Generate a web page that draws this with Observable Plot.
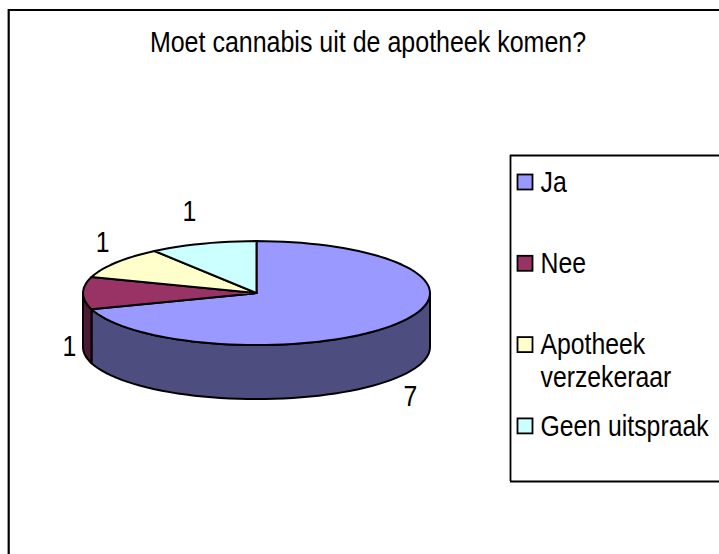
<!DOCTYPE html>
<html>
<head>
<meta charset="utf-8">
<script src="https://cdn.jsdelivr.net/npm/d3@7"></script>
<script src="https://cdn.jsdelivr.net/npm/@observablehq/plot@0.6"></script>
<style>
html,body{margin:0;padding:0;background:#fff;overflow:hidden}
svg{display:block}
</style>
</head>
<body>
<div id="chart"></div>
<script>
const titleText = "Moet cannabis uit de apotheek komen?";
const categories = ["Ja", "Nee", "Apotheek verzekeraar", "Geen uitspraak"];
const values = [7, 1, 1, 1];
const legendLines = [["Ja"], ["Nee"], ["Apotheek", "verzekeraar"], ["Geen uitspraak"]];
const topColors = ["#9999FF", "#993366", "#FFFFCC", "#CCFFFF"];
const sideColors = ["#4D4D80", "#4D1A33", "#808066", "#668080"];

// Layout, in the pixel-like units of the x and y scales
const W = 719, H = 554;
const pie = {cx: 256, cy: 292.6, rx: 173.5, ry: 52, depth: 54};
const rad = d => d * Math.PI / 180;
const ex = t => pie.cx + pie.rx * Math.sin(rad(t));
const ey = t => pie.cy - pie.ry * Math.cos(rad(t));

const total = d3.sum(values);
let acc = 0;
const slices = values.map((v, i) => {
  const a0 = acc / total * 360; acc += v;
  return {i, name: categories[i], value: v, a0, a1: acc / total * 360};
});
const arc = (a0, a1) => {
  const n = Math.max(2, Math.ceil((a1 - a0) / 3));
  return d3.range(n + 1).map(k => a0 + (a1 - a0) * k / n);
};

const topPts = slices.flatMap(s => [
  {id: s.name, x: pie.cx, y: pie.cy},
  ...arc(s.a0, s.a1).map(t => ({id: s.name, x: ex(t), y: ey(t)}))
]);
const sidePts = slices.flatMap(s => {
  const a0 = Math.max(s.a0, 90), a1 = Math.min(s.a1, 270);
  if (a1 <= a0) return [];
  const ts = arc(a0, a1), id = "side-" + s.i;
  return [
    ...ts.map(t => ({id, i: s.i, x: ex(t), y: ey(t)})),
    ...ts.slice().reverse().map(t => ({id, i: s.i, x: ex(t), y: ey(t) + pie.depth}))
  ];
});
const sideColorById = id => sideColors[+id.split("-")[1]];

const labels = slices.map(s => {
  const m = (s.a0 + s.a1) / 2, c = Math.cos(rad(m)), sn = Math.sin(rad(m));
  return {
    text: String(s.value),
    x: ex(m) + 13.5 * Math.sign(sn),
    y: ey(m) - 33 * c + (m >= 90 && m <= 270 ? pie.depth : 0)
  };
});

const legend = {x: 510, top: 155, bottom: 481, swatchX: 517.5, swatch: 15, textX: 540, firstY: 182, step: 81.3, lineStep: 33};
const rowY = i => legend.firstY + legend.step * i;
const legendRows = categories.map((name, i) => ({name, y: rowY(i)}));
const legendText = legendLines.flatMap((lines, i) => lines.map((t, j) => ({t, y: rowY(i) + j * legend.lineStep})));

const font = "'Liberation Sans', Arial, sans-serif";
const textSize = 24.8;
const titleSize = 25;
const textStretch = 1.16;
const chart = Plot.plot({
  width: W, height: H,
  margin: 0,
  x: {domain: [0, W], range: [0, W], axis: null},
  y: {domain: [0, H], range: [0, H], axis: null},
  color: {domain: categories, range: topColors},
  style: {background: "#fff", fontFamily: font},
  marks: [
    // outer chart border: runs off the right and bottom of the picture
    Plot.ruleY([9.5], {x1: 8, x2: W, stroke: "#000", strokeWidth: 2.2}),
    Plot.ruleX([8.2], {y1: 9, y2: H, stroke: "#000", strokeWidth: 2.2}),
    Plot.text([titleText], {x: [367.5], y: [42], text: d => d, fontSize: titleSize, fill: "#000", textAnchor: "middle"}),
    // pie sides, then tops
    Plot.line(sidePts, {x: "x", y: "y", z: "id", fill: d => sideColorById(d.id), stroke: "#000", strokeWidth: 2, curve: "linear-closed", strokeLinejoin: "round"}),
    Plot.line(topPts, {x: "x", y: "y", z: "id", fill: "id", stroke: "#000", strokeWidth: 2, curve: "linear-closed", strokeLinejoin: "round"}),
    Plot.text(labels, {x: "x", y: "y", text: "text", fontSize: textSize, fill: "#000", textAnchor: "middle", lineAnchor: "middle"}),
    // legend box
    Plot.ruleY([legend.top, legend.bottom], {x1: legend.x, x2: W, stroke: "#000", strokeWidth: 1.8}),
    Plot.ruleX([legend.x], {y1: legend.top, y2: legend.bottom, stroke: "#000", strokeWidth: 1.8}),
    Plot.rect(legendRows, {
      x1: () => legend.swatchX, x2: () => legend.swatchX + legend.swatch,
      y1: d => d.y - legend.swatch / 2, y2: d => d.y + legend.swatch / 2,
      fill: "name", stroke: "#000", strokeWidth: 1.8
    }),
    Plot.text(legendText, {x: () => legend.textX, y: "y", text: "t", fontSize: textSize, fill: "#000", textAnchor: "start", lineAnchor: "middle"})
  ]
});
// The reference's type is taller than it is wide: stretch every text vertically about its own anchor.
chart.querySelectorAll("text").forEach(t => {
  t.setAttribute("transform", (t.getAttribute("transform") || "") + ` scale(1,${textStretch})`);
});
document.getElementById("chart").appendChild(chart);
</script>
</body>
</html>
